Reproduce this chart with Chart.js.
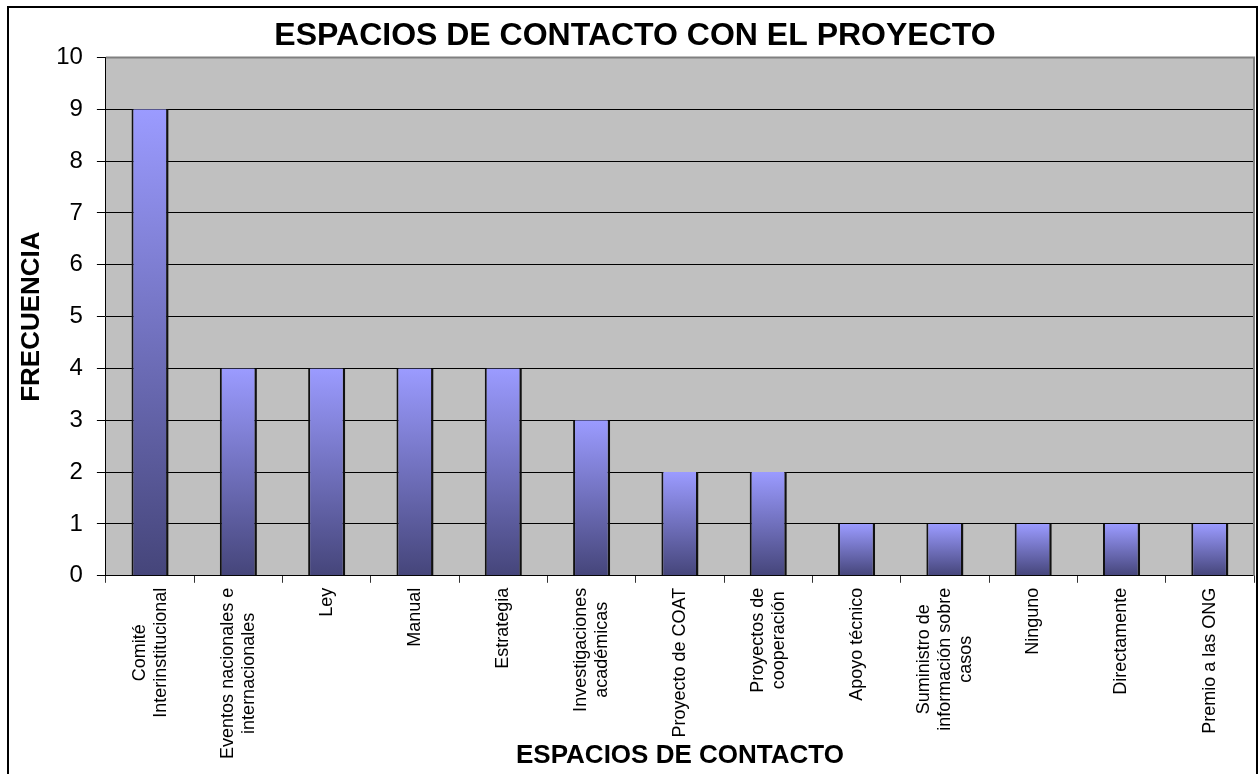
<!DOCTYPE html>
<html>
<head>
<meta charset="utf-8">
<script src="https://cdn.jsdelivr.net/npm/chart.js@4.4.1/dist/chart.umd.min.js"></script>
<style>
  html, body { margin: 0; padding: 0; background: #fff; }
  #wrap { width: 1259px; height: 774px; position: relative; }
</style>
</head>
<body>
<div id="wrap"><canvas id="chart"></canvas></div>
<script>
// data
const categories = [
  ['Comité', 'Interinstitucional'],
  ['Eventos nacionales e', 'internacionales'],
  ['Ley'],
  ['Manual'],
  ['Estrategia'],
  ['Investigaciones', 'académicas'],
  ['Proyecto de COAT'],
  ['Proyectos de', 'cooperación'],
  ['Apoyo técnico'],
  ['Suministro de', 'información sobre', 'casos'],
  ['Ninguno'],
  ['Directamente'],
  ['Premio a las ONG']
];
const frecuencia = [9, 4, 4, 4, 4, 3, 2, 2, 1, 1, 1, 1, 1];
const yMin = 0;
const yMax = 10;
const yStep = 1;

const chartTitle = 'ESPACIOS DE CONTACTO CON EL PROYECTO';
const xTitle = 'ESPACIOS DE CONTACTO';
const yTitle = 'FRECUENCIA';

const FONT = "'Liberation Sans', Arial, sans-serif";

// gray plot area + outer frame
const frame = {
  id: 'frame',
  beforeDraw(chart) {
    const { ctx, chartArea: a } = chart;
    ctx.save();
    ctx.fillStyle = '#c0c0c0';
    ctx.fillRect(a.left, a.top, a.right - a.left, a.bottom - a.top);
    ctx.restore();
  },
  afterDraw(chart) {
    const { ctx, chartArea: a } = chart;
    ctx.save();
    ctx.strokeStyle = '#808080';
    ctx.lineWidth = 2;
    ctx.beginPath();
    ctx.moveTo(a.left, a.top);
    ctx.lineTo(a.right, a.top);
    ctx.lineTo(a.right, a.bottom);
    ctx.stroke();
    ctx.strokeStyle = '#000';
    ctx.lineWidth = 2;
    ctx.strokeRect(8, 7, 1249, 800);
    ctx.restore();
  }
};

// rotated, centred multi-line category labels
const xLabels = {
  id: 'xLabels',
  afterDraw(chart) {
    const { ctx, chartArea: a, scales } = chart;
    ctx.save();
    ctx.font = '18px ' + FONT;
    ctx.fillStyle = '#000';
    ctx.textAlign = 'center';
    ctx.textBaseline = 'middle';
    const lh = 21;
    chart.data.labels.forEach((lines, i) => {
      const x = scales.x.getPixelForValue(i);
      const w = Math.max(...lines.map(l => ctx.measureText(l).width));
      ctx.save();
      ctx.translate(x, a.bottom + 12);
      ctx.rotate(-Math.PI / 2);
      lines.forEach((l, j) => {
        ctx.fillText(l, -w / 2, (j - (lines.length - 1) / 2) * lh);
      });
      ctx.restore();
    });
    ctx.restore();
  }
};

function barGradient(c) {
  const chart = c.chart;
  if (!chart.chartArea || c.type !== 'data') return '#9999ff';
  const y = chart.scales.y;
  const top = y.getPixelForValue(c.raw);
  const bottom = y.getPixelForValue(0);
  const g = chart.ctx.createLinearGradient(0, top, 0, bottom);
  g.addColorStop(0, '#9b9bff');
  g.addColorStop(1, '#45457a');
  return g;
}

new Chart(document.getElementById('chart'), {
  type: 'bar',
  data: {
    labels: categories,
    datasets: [{
      data: frecuencia,
      backgroundColor: barGradient,
      borderColor: '#111',
      borderWidth: { left: 2, right: 2.5, top: 0, bottom: 0 },
      borderSkipped: false,
      categoryPercentage: 1,
      barPercentage: 0.42
    }]
  },
  options: {
    responsive: true,
    maintainAspectRatio: false,
    animation: false,
    layout: { padding: { left: 16, right: 5, top: 17, bottom: 0 } },
    plugins: {
      legend: { display: false },
      tooltip: { enabled: false },
      title: {
        display: true,
        text: chartTitle,
        color: '#000',
        font: { family: FONT, size: 32, weight: 'bold' },
        padding: { top: 0, bottom: 2 }
      }
    },
    scales: {
      x: {
        grid: {
          offset: true,
          drawOnChartArea: false,
          drawTicks: true,
          tickLength: 7,
          color: '#333'
        },
        border: { color: '#000', width: 1 },
        ticks: { display: false },
        title: {
          display: true,
          text: xTitle,
          color: '#000',
          font: { family: FONT, size: 26, weight: 'bold' },
          padding: { top: 157, bottom: 3 }
        }
      },
      y: {
        min: yMin,
        max: yMax,
        ticks: {
          stepSize: yStep,
          color: '#000',
          font: { family: FONT, size: 24 },
          padding: 14
        },
        grid: {
          color: c => c.tick && c.tick.value === yMax ? '#808080' : '#000',
          lineWidth: 1,
          tickLength: 9,
          tickColor: '#000'
        },
        border: { color: '#000', width: 1 },
        title: {
          display: true,
          text: yTitle,
          color: '#000',
          font: { family: FONT, size: 26, weight: 'bold' },
          padding: { top: 0, bottom: -5 }
        }
      }
    }
  },
  plugins: [frame, xLabels]
});
</script>
</body>
</html>
